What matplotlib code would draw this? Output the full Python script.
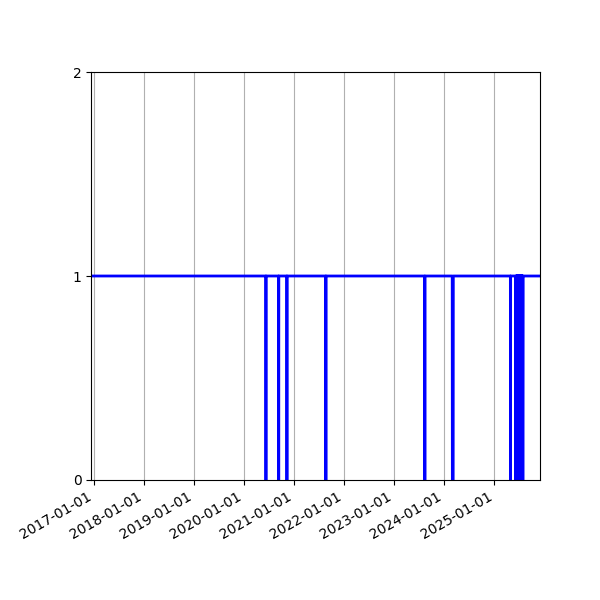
import matplotlib
matplotlib.use("Agg")
import matplotlib.pyplot as plt
import matplotlib.dates as mdates
import numpy as np
import pandas as pd

# observation window (daily status, 1 = up, 0 = down)
start_date = "2016-12-15"
end_date = "2025-11-30"

# single days with status 0
zero_days = [
    "2020-06-11", "2020-09-12", "2020-11-11", "2021-08-22",
    "2023-08-13", "2023-08-14", "2025-04-29",
    # flapping period in summer 2025
    "2025-06-08", "2025-06-10", "2025-06-12", "2025-06-14",
    "2025-06-16", "2025-06-18", "2025-06-20", "2025-06-22", "2025-06-24",
    "2025-06-26", "2025-06-28", "2025-06-30", "2025-07-02", "2025-07-04",
    "2025-07-06", "2025-07-08", "2025-07-10", "2025-07-12", "2025-07-14",
    "2025-07-16", "2025-07-18", "2025-07-20", "2025-07-22", "2025-07-24",
    "2025-07-26", "2025-07-28",
]

# longer periods with status 0
zero_ranges = [
    ("2024-03-01", "2024-03-07"),
]

dates = pd.date_range(start_date, end_date, freq="D")
status = pd.Series(np.ones(len(dates)), index=dates)
status.loc[pd.to_datetime(zero_days)] = 0
for a, b in zero_ranges:
    status.loc[a:b] = 0

fig, ax = plt.subplots(figsize=(6, 6), dpi=100)
ax.plot(status.index, status.values, color="blue", linewidth=2)

ax.set_ylim(0, 2)
ax.set_yticks([0, 1, 2])
ax.set_xlim(pd.Timestamp(start_date), pd.Timestamp(end_date))
ax.xaxis.set_major_locator(mdates.YearLocator())
ax.xaxis.set_major_formatter(mdates.DateFormatter("%Y-%m-%d"))
ax.grid(True, axis="x")

fig.autofmt_xdate()
fig.subplots_adjust(left=0.152, right=0.9, top=0.88, bottom=0.2)
fig.savefig("out.png", dpi=100)
